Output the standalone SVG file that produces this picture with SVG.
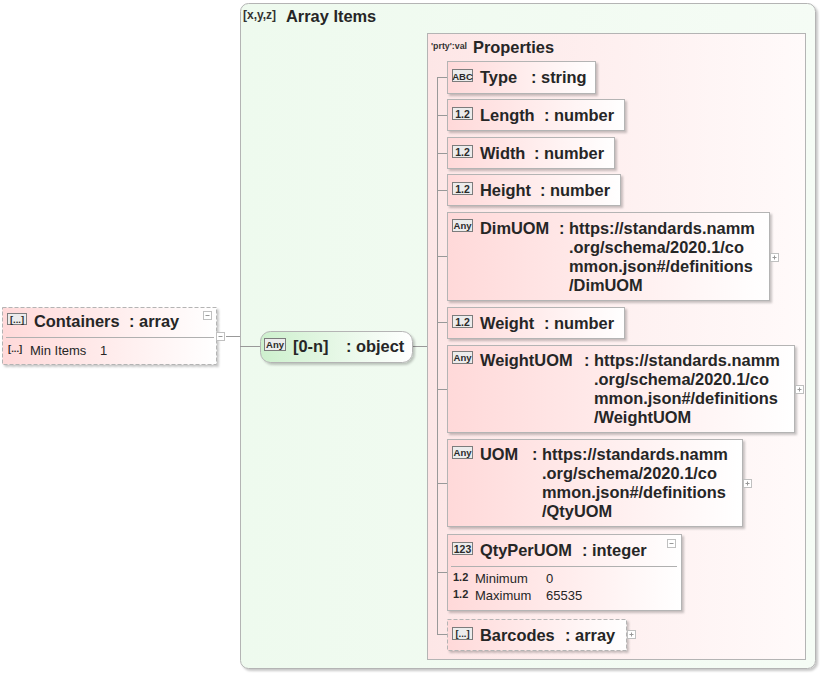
<svg xmlns="http://www.w3.org/2000/svg" width="820" height="673" viewBox="0 0 820 673">
  <defs>
    <linearGradient id="pink" x1="0" y1="0" x2="1" y2="0">
      <stop offset="0" stop-color="#ffd9d9"/>
      <stop offset="1" stop-color="#ffffff"/>
    </linearGradient>
    <linearGradient id="pinkSoft" x1="0" y1="0" x2="1" y2="0">
      <stop offset="0" stop-color="#fde6e6"/>
      <stop offset="1" stop-color="#fffafa"/>
    </linearGradient>
    <linearGradient id="green" x1="0" y1="0" x2="1" y2="0">
      <stop offset="0" stop-color="#cdf0cd"/>
      <stop offset="1" stop-color="#ffffff"/>
    </linearGradient>
    <linearGradient id="greenSoft" x1="0" y1="0" x2="1" y2="0">
      <stop offset="0" stop-color="#eefaee"/>
      <stop offset="1" stop-color="#f5fcf5"/>
    </linearGradient>
    <filter id="shadow" x="-5%" y="-5%" width="115%" height="130%">
      <feDropShadow dx="2" dy="2" stdDeviation="0.8" flood-color="#000" flood-opacity="0.22"/>
    </filter>
    <g id="plus">
      <rect x="0" y="0" width="8" height="8" fill="#fff" stroke="#c0c0c0"/>
      <path d="M2,4H6M4,2V6" stroke="#999" stroke-width="1"/>
    </g>
    <g id="minus">
      <rect x="0" y="0" width="8" height="8" fill="#fff" stroke="#c0c0c0"/>
      <path d="M2,4H6" stroke="#999" stroke-width="1"/>
    </g>
  </defs>
  <style>
    text { font-family: "Liberation Sans", Arial, sans-serif; fill: #262626; }
    .lbl { font-size: 16.4px; font-weight: bold; }
    .sm { font-size: 13px; }
    .ico { font-size: 10.5px; font-weight: bold; fill: #2a2a2a; }
    .tag { font-size: 12px; font-weight: bold; fill: #333; }
    .node { fill: url(#pink); stroke: #b4b4b4; stroke-width: 1; filter: url(#shadow); }
    .dash { stroke: #b4b4b4; stroke-dasharray: 4 2; }
    .icobox { fill: #ececec; stroke: #7c7c7c; stroke-width: 1; }
    .wire { stroke: #999; stroke-width: 1; fill: none; }
    .sep { stroke: #b0b0b0; stroke-width: 1; }
  </style>

  <!-- array items container -->
  <g id="array-items">
    <rect x="240.5" y="3.5" width="575" height="665" rx="8" fill="url(#greenSoft)" stroke="#b4b4b4" filter="url(#shadow)"/>
    <text class="tag" x="243" y="19">[x,y,z]</text>
    <text class="lbl" x="286" y="22">Array Items</text>
  </g>

  <!-- properties container -->
  <g id="properties">
    <rect x="427.5" y="33.5" width="378" height="626" fill="url(#pinkSoft)" stroke="#b4b4b4"/>
    <text class="tag" x="431" y="49" style="font-size:9.5px" textLength="36" lengthAdjust="spacingAndGlyphs">'prty':val</text>
    <text class="lbl" x="473" y="53">Properties</text>
  </g>

  <!-- connectors -->
  <g id="connectors">
    <path class="wire" d="M226,336.5H240"/>
    <path class="wire" d="M240,346.5H260"/>
    <path class="wire" d="M412,346.5H427"/>
    <path class="wire" d="M437.5,77V634.5"/>
    <path class="wire" d="M437,77.5H447M437,115.5H447M437,153.5H447M437,190.5H447M437,256.5H447M437,322.5H447M437,389.5H447M437,483.5H447M437,572.5H447M437,634.5H447"/>
  </g>

  <!-- Containers -->
  <g id="containers">
    <rect class="node dash" x="2.5" y="307.5" width="214" height="57"/>
    <rect class="icobox" x="7.5" y="313.5" width="19" height="11"/>
    <text class="ico" x="17" y="322.5" text-anchor="middle" style="font-size:9.5px">[...]</text>
    <text class="lbl" x="34" y="327">Containers</text>
    <text class="lbl" x="129" y="327">: array</text>
    <use href="#minus" x="203.5" y="311.5"/>
    <line class="sep" x1="6" y1="337.5" x2="214" y2="337.5"/>
    <use href="#minus" x="216.5" y="332.5"/>
    <text class="ico" x="8" y="352" style="font-size:9.5px">[...]</text>
    <text class="sm" x="30" y="355">Min Items</text>
    <text class="sm" x="100" y="355">1</text>
  </g>

  <!-- item of the array -->
  <g id="item">
    <rect x="260.5" y="331.5" width="152" height="31" rx="10" fill="url(#green)" stroke="#b4b4b4" filter="url(#shadow)"/>
    <rect class="icobox" x="264.5" y="338.5" width="21" height="12"/>
    <text class="ico" x="275" y="347.5" text-anchor="middle" style="font-size:9.5px">Any</text>
    <text class="lbl" x="293" y="352">[0-n]</text>
    <text class="lbl" x="346" y="352">: object</text>
  </g>

  <g id="type">
    <rect class="node" x="447.5" y="61.5" width="148" height="32"/>
    <rect class="icobox" x="452.5" y="69.5" width="20" height="12"/>
    <text class="ico" x="462.5" y="79.5" text-anchor="middle" style="font-size:9.5px">ABC</text>
    <text class="lbl" x="480" y="83">Type</text>
    <text class="lbl" x="531" y="83">: string</text>
  </g>

  <g id="length">
    <rect class="node" x="447.5" y="99.5" width="177" height="31"/>
    <rect class="icobox" x="452.5" y="107.5" width="20" height="12"/>
    <text class="ico" x="462.5" y="117.5" text-anchor="middle">1.2</text>
    <text class="lbl" x="480" y="121">Length</text>
    <text class="lbl" x="544" y="121">: number</text>
  </g>

  <g id="width">
    <rect class="node" x="447.5" y="137.5" width="167" height="31"/>
    <rect class="icobox" x="452.5" y="145.5" width="20" height="12"/>
    <text class="ico" x="462.5" y="155.5" text-anchor="middle">1.2</text>
    <text class="lbl" x="480" y="159">Width</text>
    <text class="lbl" x="534" y="159">: number</text>
  </g>

  <g id="height">
    <rect class="node" x="447.5" y="174.5" width="173" height="31"/>
    <rect class="icobox" x="452.5" y="182.5" width="20" height="12"/>
    <text class="ico" x="462.5" y="192.5" text-anchor="middle">1.2</text>
    <text class="lbl" x="480" y="196">Height</text>
    <text class="lbl" x="540" y="196">: number</text>
  </g>

  <g id="dimuom">
    <rect class="node" x="447.5" y="212.5" width="322" height="88"/>
    <rect class="icobox" x="452.5" y="219.5" width="20" height="12"/>
    <text class="ico" x="462.5" y="229" text-anchor="middle" style="font-size:9.5px">Any</text>
    <text class="lbl" x="480" y="234">DimUOM</text>
    <text class="lbl" x="559" y="234">:</text>
    <text class="lbl" x="569" y="234">https://standards.namm</text>
    <text class="lbl" x="569" y="253">.org/schema/2020.1/co</text>
    <text class="lbl" x="569" y="272">mmon.json#/definitions</text>
    <text class="lbl" x="569" y="291">/DimUOM</text>
    <use href="#plus" x="770.5" y="253.5"/>
  </g>

  <g id="weight">
    <rect class="node" x="447.5" y="307.5" width="177" height="31"/>
    <rect class="icobox" x="452.5" y="315.5" width="20" height="12"/>
    <text class="ico" x="462.5" y="325.5" text-anchor="middle">1.2</text>
    <text class="lbl" x="480" y="329">Weight</text>
    <text class="lbl" x="544" y="329">: number</text>
  </g>

  <g id="weightuom">
    <rect class="node" x="447.5" y="345.5" width="347" height="87"/>
    <rect class="icobox" x="452.5" y="351.5" width="20" height="12"/>
    <text class="ico" x="462.5" y="361" text-anchor="middle" style="font-size:9.5px">Any</text>
    <text class="lbl" x="480" y="366">WeightUOM</text>
    <text class="lbl" x="584" y="366">:</text>
    <text class="lbl" x="594" y="366">https://standards.namm</text>
    <text class="lbl" x="594" y="385">.org/schema/2020.1/co</text>
    <text class="lbl" x="594" y="404">mmon.json#/definitions</text>
    <text class="lbl" x="594" y="423">/WeightUOM</text>
    <use href="#plus" x="795.5" y="385.5"/>
  </g>

  <g id="uom">
    <rect class="node" x="447.5" y="439.5" width="295" height="87"/>
    <rect class="icobox" x="452.5" y="446.5" width="20" height="12"/>
    <text class="ico" x="462.5" y="456" text-anchor="middle" style="font-size:9.5px">Any</text>
    <text class="lbl" x="480" y="460">UOM</text>
    <text class="lbl" x="532" y="460">:</text>
    <text class="lbl" x="542" y="460">https://standards.namm</text>
    <text class="lbl" x="542" y="479">.org/schema/2020.1/co</text>
    <text class="lbl" x="542" y="498">mmon.json#/definitions</text>
    <text class="lbl" x="542" y="517">/QtyUOM</text>
    <use href="#plus" x="743.5" y="479.5"/>
  </g>

  <g id="qtyperuom">
    <rect class="node" x="447.5" y="534.5" width="234" height="76"/>
    <rect class="icobox" x="452.5" y="542.5" width="20" height="12"/>
    <text class="ico" x="462.5" y="552.5" text-anchor="middle">123</text>
    <text class="lbl" x="480" y="556">QtyPerUOM</text>
    <text class="lbl" x="582" y="556">: integer</text>
    <use href="#minus" x="667.5" y="539.5"/>
    <line class="sep" x1="451" y1="566.5" x2="677" y2="566.5"/>
    <text class="ico" x="453" y="581" style="font-size:11px">1.2</text>
    <text class="sm" x="475" y="583">Minimum</text>
    <text class="sm" x="546" y="583">0</text>
    <text class="ico" x="453" y="598" style="font-size:11px">1.2</text>
    <text class="sm" x="475" y="600">Maximum</text>
    <text class="sm" x="546" y="600">65535</text>
  </g>

  <g id="barcodes">
    <rect class="node dash" x="447.5" y="619.5" width="179" height="31"/>
    <rect class="icobox" x="452.5" y="627.5" width="20" height="12"/>
    <text class="ico" x="462.5" y="637" text-anchor="middle" style="font-size:9.5px">[...]</text>
    <text class="lbl" x="480" y="641">Barcodes</text>
    <text class="lbl" x="565" y="641">: array</text>
    <use href="#plus" x="627.5" y="630.5"/>
  </g>
</svg>
